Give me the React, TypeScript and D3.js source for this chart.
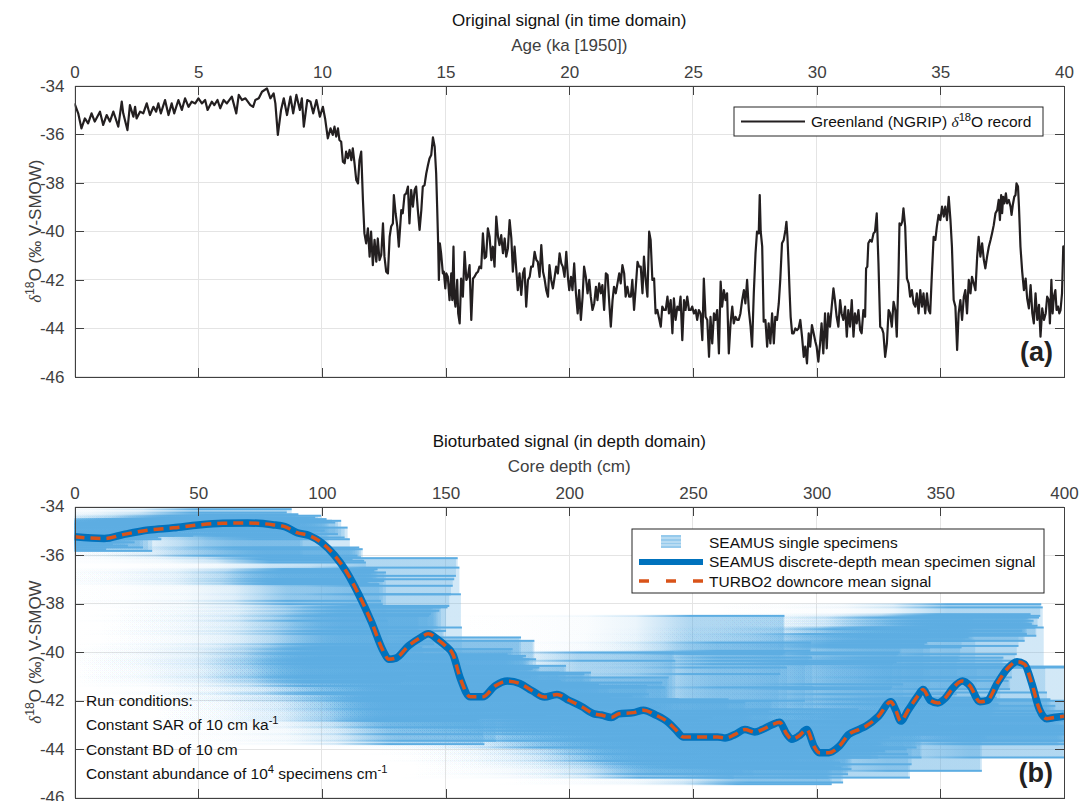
import { useRef, useEffect } from "react";
import * as d3 from "d3";

// NGRIP d18O record, in 10 ka pieces
const ngripAge0 = [
  0, 0.15, 0.28, 0.42, 0.55, 0.69, 0.82, 1.03, 1.16, 1.3,
  1.43, 1.57, 1.64, 1.77, 1.91, 1.97, 2.14, 2.24, 2.38, 2.45,
  2.51, 2.65, 2.78, 2.92, 3.05, 3.19, 3.3, 3.39, 3.49, 3.66,
  3.8, 3.93, 4.03, 4.2, 4.34, 4.47, 4.61, 4.74, 4.88, 5.01,
  5.15, 5.28, 5.38, 5.55, 5.65, 5.78, 5.89, 6.03, 6.16, 6.36,
  6.54, 6.64, 6.77, 6.91, 7.11, 7.22, 7.31, 7.45, 7.58, 7.78,
  7.92, 8.05, 8.12, 8.22, 8.35, 8.46, 8.59, 8.73, 8.84, 8.97,
  9.11, 9.19, 9.27, 9.41, 9.54, 9.65, 9.78, 9.92,
];
const ngripD18O0 = [
  -34.73, -35.14, -35.76, -35.35, -35.55, -35.14, -35.48, -35.07, -35.62, -35.21,
  -35.48, -35.07, -35.28, -35.69, -34.66, -35.14, -35.83, -34.8, -35.28, -34.87,
  -35.35, -35.07, -35.14, -34.73, -35.21, -34.87, -35.07, -34.73, -35.14, -34.59,
  -35.21, -34.73, -35.14, -34.59, -35.0, -34.52, -34.87, -34.66, -34.73, -34.52,
  -34.73, -34.59, -35.0, -34.66, -34.8, -34.59, -34.93, -34.59, -34.73, -34.45,
  -35.14, -34.38, -34.59, -34.52, -34.8, -34.87, -34.59, -34.52, -34.25, -34.11,
  -34.52, -34.32, -34.73, -36.03, -35.0, -34.52, -35.21, -34.45, -35.14, -34.38,
  -35.0, -34.52, -35.69, -34.59, -34.66, -35.14, -34.59, -35.28,
];
const ngripAge10 = [
  10.04, 10.13, 10.24, 10.35, 10.44, 10.51, 10.58, 10.65, 10.71, 10.78,
  10.85, 10.92, 10.98, 11.05, 11.12, 11.19, 11.25, 11.32, 11.39, 11.46,
  11.52, 11.59, 11.66, 11.72, 11.79, 11.86, 11.93, 11.99, 12.06, 12.13,
  12.2, 12.26, 12.33, 12.4, 12.47, 12.53, 12.6, 12.67, 12.74, 12.8,
  12.87, 12.91, 12.98, 13.05, 13.11, 13.21, 13.27, 13.34, 13.41, 13.48,
  13.54, 13.61, 13.68, 13.75, 13.81, 13.88, 13.95, 14.02, 14.08, 14.15,
  14.22, 14.29, 14.35, 14.42, 14.49, 14.56, 14.62, 14.66, 14.7, 14.73,
  14.77, 14.82, 14.89, 14.93, 14.99, 15.03, 15.09, 15.16, 15.23, 15.27,
  15.32, 15.36, 15.4, 15.47, 15.51, 15.57, 15.63, 15.7, 15.77, 15.84,
  15.9, 15.97, 16.04, 16.11, 16.17, 16.24, 16.31, 16.37, 16.44, 16.51,
  16.58, 16.64, 16.71, 16.78, 16.85, 16.91, 16.98, 17.05, 17.12, 17.18,
  17.25, 17.32, 17.39, 17.45, 17.52, 17.59, 17.66, 17.72, 17.79, 17.86,
  17.92, 17.99, 18.06, 18.13, 18.19, 18.26, 18.33, 18.4, 18.46, 18.53,
  18.6, 18.67, 18.73, 18.8, 18.87, 18.94, 19.0, 19.07, 19.14, 19.2,
  19.27, 19.34, 19.41, 19.47, 19.54, 19.61, 19.68, 19.74, 19.81, 19.88,
  19.95,
];
const ngripD18O10 = [
  -34.87, -35.35, -36.17, -35.76, -36.03, -35.69, -36.1, -35.76, -36.24, -36.31,
  -37.13, -37.2, -36.72, -36.99, -36.65, -37.07, -36.58, -37.2, -37.89, -38.03,
  -37.07, -36.72, -38.71, -40.09, -40.5, -39.88, -41.05, -40.02, -41.4, -40.36,
  -41.26, -40.3, -41.19, -40.98, -39.68, -41.05, -41.67, -41.74, -40.23, -39.81,
  -39.68, -38.51, -39.26, -39.81, -40.64, -39.13, -39.26, -38.51, -38.44, -38.16,
  -39.68, -38.3, -38.99, -38.3, -38.16, -39.13, -39.95, -39.13, -38.16, -38.1,
  -37.62, -37.27, -37.0, -36.86, -36.13, -36.52, -37.62, -38.99, -40.5, -42.01,
  -40.5, -40.91, -41.74, -41.67, -42.36, -41.74, -41.88, -42.84, -41.74, -42.84,
  -40.64, -42.77, -43.11, -42.01, -43.39, -43.8, -41.95, -42.7, -40.85, -42.01,
  -41.88, -41.4, -43.66, -41.95, -41.88, -41.74, -41.67, -41.46, -41.53, -40.09,
  -41.12, -41.05, -39.88, -40.23, -41.19, -40.64, -41.46, -39.4, -40.23, -40.57,
  -40.16, -40.91, -40.3, -41.05, -40.71, -39.54, -40.3, -41.67, -40.64, -41.6,
  -42.43, -41.74, -42.63, -41.74, -41.53, -43.11, -42.01, -41.88, -41.46, -41.46,
  -40.85, -41.19, -41.26, -41.88, -40.57, -41.67, -41.95, -42.43, -42.7, -41.4,
  -42.01, -42.36, -41.88, -41.46, -41.74, -40.91, -41.33, -41.46, -41.88, -40.85,
  -41.95,
];
const ngripAge20 = [
  20.0, 20.07, 20.13, 20.2, 20.27, 20.34, 20.4, 20.47, 20.54, 20.6,
  20.67, 20.74, 20.81, 20.87, 20.94, 21.01, 21.08, 21.14, 21.21, 21.28,
  21.34, 21.41, 21.48, 21.55, 21.61, 21.68, 21.75, 21.81, 21.88, 21.95,
  22.02, 22.08, 22.15, 22.22, 22.28, 22.35, 22.42, 22.49, 22.55, 22.62,
  22.69, 22.76, 22.82, 22.89, 22.96, 23.02, 23.09, 23.16, 23.23, 23.29,
  23.36, 23.43, 23.49, 23.56, 23.63, 23.7, 23.76, 23.83, 23.9, 23.97,
  24.03, 24.1, 24.17, 24.23, 24.3, 24.37, 24.44, 24.5, 24.57, 24.64,
  24.7, 24.77, 24.84, 24.91, 24.97, 25.04, 25.11, 25.17, 25.24, 25.31,
  25.38, 25.44, 25.51, 25.58, 25.65, 25.71, 25.78, 25.85, 25.91, 25.98,
  26.05, 26.12, 26.18, 26.25, 26.32, 26.38, 26.45, 26.52, 26.59, 26.65,
  26.72, 26.79, 26.85, 26.92, 26.99, 27.06, 27.12, 27.19, 27.26, 27.33,
  27.39, 27.46, 27.53, 27.59, 27.66, 27.7, 27.74, 27.8, 27.86, 27.93,
  28.0, 28.06, 28.13, 28.2, 28.27, 28.33, 28.4, 28.47, 28.53, 28.6,
  28.67, 28.74, 28.78, 28.82, 28.87, 28.91, 28.95, 29.01, 29.07, 29.14,
  29.21, 29.27, 29.34, 29.41, 29.48, 29.54, 29.61, 29.68, 29.74, 29.81,
  29.88, 29.95,
];
const ngripD18O20 = [
  -42.43, -41.88, -42.43, -41.33, -42.56, -43.39, -42.43, -43.66, -42.7, -41.46,
  -41.88, -42.56, -42.01, -42.7, -43.25, -42.98, -42.29, -42.84, -42.15, -42.56,
  -42.22, -43.25, -41.74, -41.81, -42.84, -43.94, -42.84, -42.29, -42.56, -42.15,
  -41.74, -42.15, -41.4, -41.74, -42.7, -42.29, -42.7, -42.7, -42.01, -43.25,
  -42.29, -41.26, -41.46, -41.46, -42.56, -41.05, -42.01, -42.7, -40.02, -40.36,
  -42.01, -41.95, -43.39, -43.25, -43.59, -43.94, -43.11, -43.25, -43.25, -42.7,
  -43.39, -42.84, -44.21, -42.77, -43.66, -43.11, -43.25, -42.7, -44.49, -42.84,
  -43.25, -42.7, -43.25, -43.25, -43.11, -43.39, -43.25, -43.66, -43.25, -43.39,
  -44.49, -41.95, -43.53, -43.66, -45.18, -43.53, -44.63, -43.39, -43.66, -43.25,
  -45.04, -42.08, -43.11, -42.43, -42.84, -42.56, -45.04, -43.8, -43.11, -43.8,
  -43.53, -43.66, -43.66, -43.39, -42.84, -42.43, -42.98, -42.01, -43.25, -43.94,
  -44.76, -42.56, -40.91, -40.02, -40.09, -38.51, -40.02, -40.64, -43.73, -43.66,
  -44.76, -43.8, -44.63, -43.39, -44.63, -43.53, -43.66, -42.98, -42.01, -40.5,
  -40.36, -39.95, -39.61, -40.23, -41.46, -42.56, -43.53, -44.21, -44.21, -44.01,
  -44.08, -44.01, -43.66, -44.35, -45.18, -44.76, -45.45, -44.21, -44.76, -43.87,
  -44.21, -44.56,
];
const ngripAge30 = [
  30.0, 30.07, 30.14, 30.2, 30.27, 30.34, 30.41, 30.47, 30.54, 30.61,
  30.68, 30.74, 30.81, 30.88, 30.95, 31.01, 31.08, 31.15, 31.22, 31.28,
  31.35, 31.42, 31.49, 31.55, 31.62, 31.69, 31.76, 31.82, 31.89, 31.96,
  32.0, 32.05, 32.09, 32.16, 32.23, 32.3, 32.36, 32.43, 32.5, 32.57,
  32.64, 32.7, 32.77, 32.84, 32.91, 32.97, 33.04, 33.11, 33.18, 33.24,
  33.31, 33.35, 33.41, 33.46, 33.51, 33.58, 33.65, 33.72, 33.78, 33.85,
  33.92, 33.99, 34.05, 34.12, 34.19, 34.26, 34.32, 34.39, 34.46, 34.53,
  34.59, 34.66, 34.73, 34.8, 34.86, 34.93, 35.0, 35.07, 35.14, 35.2,
  35.27, 35.34, 35.41, 35.47, 35.54, 35.61, 35.68, 35.74, 35.81, 35.88,
  35.95, 36.01, 36.08, 36.15, 36.22, 36.28, 36.35, 36.42, 36.49, 36.55,
  36.62, 36.69, 36.76, 36.82, 36.89, 36.96, 37.03, 37.09, 37.16, 37.23,
  37.3, 37.36, 37.41, 37.46, 37.5, 37.54, 37.59, 37.65, 37.7, 37.77,
  37.84, 37.88, 37.93, 37.99, 38.04, 38.08, 38.14, 38.18, 38.24, 38.31,
  38.38, 38.45, 38.51, 38.58, 38.65, 38.72, 38.78, 38.85, 38.92, 38.99,
  39.05, 39.12, 39.19, 39.26, 39.32, 39.39, 39.43, 39.49, 39.54, 39.59,
  39.65, 39.7, 39.76, 39.81, 39.86, 39.92, 39.97, 40.0,
];
const ngripD18O30 = [
  -44.76, -45.38, -44.63, -43.8, -45.04, -43.39, -44.83, -43.39, -43.94, -43.11,
  -42.36, -42.84, -43.53, -43.94, -42.84, -43.39, -43.66, -43.11, -44.35, -43.25,
  -43.94, -42.84, -44.35, -43.39, -43.8, -43.25, -44.08, -44.21, -43.25, -43.53,
  -41.53, -41.46, -40.5, -40.36, -40.43, -40.09, -40.02, -39.26, -41.33, -43.94,
  -44.01, -44.21, -45.18, -44.63, -43.25, -43.39, -43.94, -42.91, -43.25, -44.35,
  -41.74, -39.68, -39.75, -39.61, -39.06, -39.81, -41.95, -42.15, -42.7, -42.43,
  -42.98, -43.11, -42.56, -43.39, -42.43, -43.11, -42.56, -43.39, -42.56, -43.25,
  -43.39, -41.74, -40.23, -40.36, -39.81, -39.33, -39.54, -38.99, -39.4, -38.99,
  -39.54, -38.58, -39.54, -40.64, -42.84, -43.11, -44.9, -43.39, -42.84, -43.66,
  -42.7, -42.43, -43.39, -42.01, -42.56, -41.88, -42.15, -42.43, -41.05, -40.23,
  -41.05, -40.5, -41.19, -41.53, -41.05, -40.64, -40.36, -40.09, -39.75, -39.26,
  -39.13, -38.71, -39.54, -38.51, -39.26, -38.58, -38.85, -38.44, -38.85, -38.71,
  -38.99, -39.33, -38.92, -38.58, -38.51, -38.03, -38.16, -38.99, -40.64, -41.67,
  -42.43, -41.95, -42.77, -43.18, -42.22, -43.39, -43.8, -42.56, -43.66, -43.04,
  -44.35, -43.18, -43.66, -43.39, -42.7, -42.84, -43.8, -42.01, -43.39, -42.7,
  -42.43, -43.25, -43.11, -43.39, -43.25, -42.56, -40.64, -40.6,
];

// downcore mean signal (SEAMUS mean == TURBO2 mean)
const meanDepth = [
  0, 12, 20, 30, 40, 50, 60, 70, 80, 85, 90, 95, 100, 105, 110, 115, 120, 125, 127, 130,
  135, 140, 143, 147, 150, 153, 156, 160, 165, 170, 175, 180, 185, 190, 195, 200, 205, 210, 213, 217,
  220, 226, 230, 235, 240, 243, 246, 250, 255, 260, 263, 267, 271, 275, 278, 282, 285, 288, 290, 293,
  296, 299, 301, 305, 309, 313, 317, 320, 325, 330, 332, 334, 337, 341, 343, 346, 349, 352, 355, 359,
  362, 366, 369, 373, 377, 381, 384, 387, 390, 393, 396, 400,
];
const meanD18O = [
  -35.25, -35.32, -35.15, -34.97, -34.88, -34.76, -34.69, -34.68, -34.75, -34.83, -35.08, -35.2, -35.5, -36.0, -36.7, -37.65, -38.75, -40.0, -40.3, -40.25,
  -39.75, -39.4, -39.25, -39.5, -39.75, -40.1, -41.1, -41.85, -41.85, -41.4, -41.2, -41.3, -41.6, -41.86, -41.75, -42.0, -42.25, -42.55, -42.6, -42.7,
  -42.55, -42.5, -42.4, -42.6, -42.9, -43.2, -43.5, -43.5, -43.5, -43.5, -43.55, -43.4, -43.2, -43.3, -43.2, -43.0, -42.9, -43.4, -43.6, -43.45,
  -43.2, -43.9, -44.15, -44.15, -43.9, -43.4, -43.2, -43.05, -42.65, -42.05, -42.4, -42.85, -42.4, -41.8, -41.55, -42.0, -42.1, -41.9, -41.5, -41.2,
  -41.4, -42.05, -42.0, -41.3, -40.7, -40.4, -40.5, -41.3, -42.35, -42.75, -42.7, -42.65,
];

const ageTicks = [0, 5, 10, 15, 20, 25, 30, 35, 40];
const depthTicks = [0, 50, 100, 150, 200, 250, 300, 350, 400];
const d18OTicks = [-46, -44, -42, -40, -38, -36, -34];

// run conditions
const SAR = 10; // cm per ka
const BD = 10; // cm

const ngripAge = [...ngripAge0, ...ngripAge10, ...ngripAge20, ...ngripAge30];
const ngripD18O = [...ngripD18O0, ...ngripD18O10, ...ngripD18O20, ...ngripD18O30];

const FONT = '"Liberation Sans", Arial, Helvetica, sans-serif';
const AX = "#404040";
const CLOUD = "#5DADE2";
const BLUE = "#0072BD";
const ORANGE = "#D95319";

type Part = { t: string; sup?: boolean; it?: boolean };

// text with superscripts / italic delta, MATLAB tex style
function rich(sel: any, parts: Part[], size: number) {
  let up = false;
  parts.forEach((p) => {
    const ts = sel.append("tspan").text(p.t);
    if (p.it) ts.attr("font-family", '"Liberation Serif", serif').attr("font-style", "italic");
    if (p.sup && !up) {
      ts.attr("dy", -size * 0.4).attr("font-size", size * 0.72);
      up = true;
    } else if (p.sup) {
      ts.attr("font-size", size * 0.72);
    } else if (up) {
      ts.attr("dy", size * 0.4);
      up = false;
    }
  });
}

const App = () => {
  const svgRef = useRef<SVGSVGElement>(null);

  useEffect(() => {
    const svg = d3.select(svgRef.current);
    svg.selectAll("*").remove();
    svg.attr("font-family", FONT);

    const X0 = 74.5,
      X1 = 1064;
    const xA = d3.scaleLinear().domain([0, 40]).range([X0, X1]);
    const yA = d3.scaleLinear().domain([-46, -34]).range([376.7, 85.7]);
    const xB = d3.scaleLinear().domain([0, 400]).range([X0, X1]);
    const yB = d3.scaleLinear().domain([-46, -34]).range([797.5, 506.5]);

    const defs = svg.append("defs");
    [["clipA", yA], ["clipB", yB]].forEach(([id, y]: any) => {
      defs
        .append("clipPath")
        .attr("id", id)
        .append("rect")
        .attr("x", X0)
        .attr("y", y.range()[1])
        .attr("width", X1 - X0)
        .attr("height", y.range()[0] - y.range()[1]);
    });

    // streak fade: specimens of one age reach down to depth age*SAR+BD and thin out upcore
    const TAIL = 140;
    const grad = defs
      .append("linearGradient")
      .attr("id", "streakFade")
      .attr("x1", 0)
      .attr("x2", 1)
      .attr("y1", 0)
      .attr("y2", 0);
    [
      [140, 0],
      [105, 0.02],
      [80, 0.06],
      [60, 0.22],
      [48, 0.6],
      [38, 1],
      [0, 1],
    ].forEach(([r, o]) =>
      grad
        .append("stop")
        .attr("offset", 1 - r / TAIL)
        .attr("stop-color", CLOUD)
        .attr("stop-opacity", o)
    );

    const grid = (x: any, y: any, xt: number[]) => {
      const g = svg.append("g").attr("stroke", "#e4e4e4").attr("shape-rendering", "crispEdges");
      g.selectAll(".gx")
        .data(xt)
        .join("line")
        .attr("x1", (d) => x(d))
        .attr("x2", (d) => x(d))
        .attr("y1", y.range()[1])
        .attr("y2", y.range()[0]);
      g.selectAll(".gy")
        .data(d18OTicks)
        .join("line")
        .attr("x1", X0)
        .attr("x2", X1)
        .attr("y1", (d) => y(d))
        .attr("y2", (d) => y(d));
    };

    const axes = (x: any, y: any, xt: number[]) => {
      const top = y.range()[1],
        bot = y.range()[0];
      const style = (g: any) => {
        g.attr("font-family", FONT).attr("font-size", 17);
        g.select(".domain").attr("stroke", AX);
        g.selectAll(".tick line").attr("stroke", AX);
        g.selectAll(".tick text").attr("fill", AX);
        g.attr("shape-rendering", "crispEdges");
      };
      svg
        .append("g")
        .attr("transform", `translate(0,${top})`)
        .call(d3.axisTop(x).tickValues(xt).tickSizeInner(-9).tickSizeOuter(0).tickPadding(8).tickFormat((d: any) => String(d)))
        .call(style);
      svg
        .append("g")
        .attr("transform", `translate(0,${bot})`)
        .call(d3.axisBottom(x).tickValues(xt).tickSizeInner(-9).tickSizeOuter(0).tickFormat(() => ""))
        .call(style);
      svg
        .append("g")
        .attr("transform", `translate(${X0},0)`)
        .call(d3.axisLeft(y).tickValues(d18OTicks).tickSizeInner(-9).tickSizeOuter(0).tickPadding(10).tickFormat((d: any) => String(d)))
        .call(style);
      svg
        .append("g")
        .attr("transform", `translate(${X1},0)`)
        .call(d3.axisRight(y).tickValues(d18OTicks).tickSizeInner(-9).tickSizeOuter(0).tickFormat(() => ""))
        .call(style);
    };

    const titles = (top: number, title: string, xlabel: string, ylab: Part[]) => {
      svg
        .append("text")
        .attr("x", (X0 + X1) / 2)
        .attr("y", top - 60)
        .attr("text-anchor", "middle")
        .attr("font-size", 17)
        .attr("fill", "#111")
        .text(title);
      svg
        .append("text")
        .attr("x", (X0 + X1) / 2)
        .attr("y", top - 34.5)
        .attr("text-anchor", "middle")
        .attr("font-size", 17)
        .attr("fill", AX)
        .text(xlabel);
      const yl = svg
        .append("text")
        .attr("transform", `translate(41,${top + 145.5}) rotate(-90)`)
        .attr("text-anchor", "middle")
        .attr("font-size", 17)
        .attr("fill", AX);
      rich(yl, ylab, 17);
    };

    const panelTag = (baseline: number, t: string) =>
      svg
        .append("text")
        .attr("x", 1053)
        .attr("y", baseline)
        .attr("text-anchor", "end")
        .attr("font-size", 27)
        .attr("font-weight", "bold")
        .attr("fill", "#222")
        .text(t);

    // ---------- panel (a) ----------
    grid(xA, yA, ageTicks);
    const line = d3
      .line<number>()
      .x((_, i) => xA(ngripAge[i]))
      .y((d) => yA(d));
    svg
      .append("path")
      .attr("clip-path", "url(#clipA)")
      .attr("d", line(ngripD18O))
      .attr("fill", "none")
      .attr("stroke", "#231F20")
      .attr("stroke-width", 2.2)
      .attr("stroke-linejoin", "round");
    axes(xA, yA, ageTicks);
    titles(85.7, "Original signal (in time domain)", "Age (ka [1950])", [
      { t: "δ", it: true },
      { t: "18", sup: true },
      { t: "O (‰ V-SMOW)" },
    ]);

    const legA = svg.append("g");
    legA.append("rect").attr("x", 734).attr("y", 107).attr("width", 309).attr("height", 29).attr("fill", "#fff").attr("stroke", "#262626");
    legA.append("line").attr("x1", 741).attr("x2", 805).attr("y1", 121.5).attr("y2", 121.5).attr("stroke", "#231F20").attr("stroke-width", 2);
    const ta = legA.append("text").attr("x", 811).attr("y", 127).attr("font-size", 15.5).attr("fill", "#111");
    rich(ta, [{ t: "Greenland (NGRIP) " }, { t: "δ", it: true }, { t: "18", sup: true }, { t: "O record" }], 15.5);
    panelTag(361, "(a)");

    // ---------- panel (b) ----------
    grid(xB, yB, depthTicks);
    const cloud = svg.append("g").attr("clip-path", "url(#clipB)");
    const streaks = ngripD18O.map((v, i) => {
      const edge = ngripAge[i] * SAR + BD;
      const next = i < ngripD18O.length - 1 ? ngripD18O[i + 1] : v;
      return { edge, v, lo: Math.min(v, next), hi: Math.max(v, next) };
    });
    cloud
      .selectAll(".span")
      .data(streaks)
      .join("rect")
      .attr("x", (d) => xB(d.edge - TAIL))
      .attr("width", (d) => xB(d.edge) - xB(d.edge - TAIL))
      .attr("y", (d) => yB(d.hi))
      .attr("height", (d) => Math.max(0.5, yB(d.lo) - yB(d.hi)))
      .attr("fill", "url(#streakFade)")
      .attr("fill-opacity", 0.28);
    cloud
      .selectAll(".streak")
      .data(streaks)
      .join("rect")
      .attr("x", (d) => xB(d.edge - TAIL))
      .attr("width", (d) => xB(d.edge) - xB(d.edge - TAIL))
      .attr("y", (d) => yB(d.v) - 1)
      .attr("height", 2)
      .attr("fill", "url(#streakFade)");

    const meanLine = d3
      .line<number>()
      .x((_, i) => xB(meanDepth[i]))
      .y((d) => yB(d))
      .curve(d3.curveMonotoneX);
    const meanG = svg.append("g").attr("clip-path", "url(#clipB)");
    meanG
      .append("path")
      .attr("d", meanLine(meanD18O))
      .attr("fill", "none")
      .attr("stroke", BLUE)
      .attr("stroke-width", 7.5)
      .attr("stroke-linejoin", "round");
    meanG
      .append("path")
      .attr("d", meanLine(meanD18O))
      .attr("fill", "none")
      .attr("stroke", ORANGE)
      .attr("stroke-width", 3.5)
      .attr("stroke-dasharray", "10 6");

    axes(xB, yB, depthTicks);
    titles(506.5, "Bioturbated signal (in depth domain)", "Core depth (cm)", [
      { t: "δ", it: true },
      { t: "18", sup: true },
      { t: "O (‰) V-SMOW" },
    ]);

    const legB = svg.append("g");
    legB.append("rect").attr("x", 632).attr("y", 529).attr("width", 412).attr("height", 64).attr("fill", "#fff").attr("stroke", "#262626");
    legB.append("rect").attr("x", 661).attr("y", 535).attr("width", 20).attr("height", 13).attr("fill", CLOUD).attr("fill-opacity", 0.65);
    [538, 542, 545].forEach((y) =>
      legB.append("line").attr("x1", 661).attr("x2", 681).attr("y1", y).attr("y2", y).attr("stroke", "#fff").attr("stroke-width", 0.8).attr("stroke-opacity", 0.8)
    );
    legB.append("line").attr("x1", 639).attr("x2", 703).attr("y1", 562).attr("y2", 562).attr("stroke", BLUE).attr("stroke-width", 6);
    legB
      .append("line")
      .attr("x1", 639)
      .attr("x2", 703)
      .attr("y1", 581)
      .attr("y2", 581)
      .attr("stroke", ORANGE)
      .attr("stroke-width", 3.5)
      .attr("stroke-dasharray", "10 17");
    ["SEAMUS single specimens", "SEAMUS discrete-depth mean specimen signal", "TURBO2 downcore mean signal"].forEach((t, i) =>
      legB
        .append("text")
        .attr("x", 709)
        .attr("y", 547.5 + i * 19.5)
        .attr("font-size", 15.5)
        .attr("fill", "#111")
        .text(t)
    );

    const notes: Part[][] = [
      [{ t: "Run conditions:" }],
      [{ t: `Constant SAR of ${SAR} cm ka` }, { t: "-1", sup: true }],
      [{ t: `Constant BD of ${BD} cm` }],
      [{ t: "Constant abundance of 10" }, { t: "4", sup: true }, { t: " specimens cm" }, { t: "-1", sup: true }],
    ];
    notes.forEach((parts, i) => {
      const t = svg
        .append("text")
        .attr("x", 86)
        .attr("y", 706 + i * 24.3)
        .attr("font-size", 15.5)
        .attr("fill", "#111");
      rich(t, parts, 15.5);
    });
    panelTag(782, "(b)");
  }, []);

  return (
    <svg
      ref={svgRef}
      width={1080}
      height={801}
      style={{ position: "absolute", left: 0, top: 0, background: "#fff" }}
    ></svg>
  );
};

export default App;
